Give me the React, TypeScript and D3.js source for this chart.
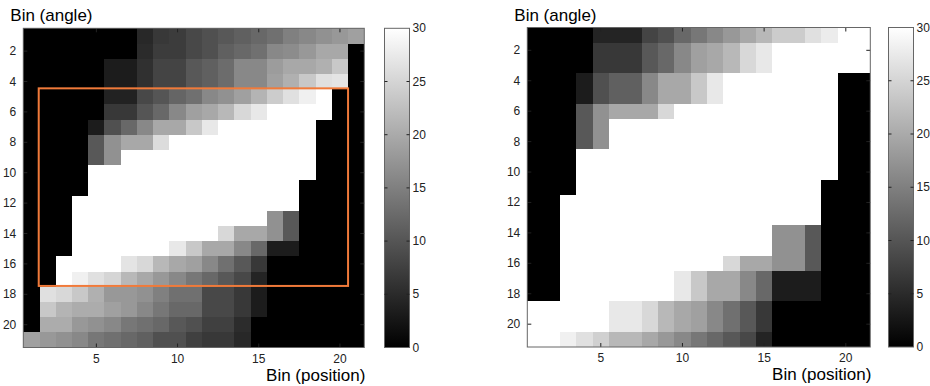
import * as d3 from 'd3';

// counts per (angle bin, position bin); rows = angle 1..21, columns = position 1..21
const leftCounts: number[][] = [
  [0, 0, 0, 0, 0, 0, 0, 4.7, 6.6, 7, 8.5, 9.4, 10.4, 11.3, 12.2, 13.2, 15, 16, 17, 17.9, 18.8],
  [0, 0, 0, 0, 0, 0, 0, 5, 7, 7, 8.5, 9.4, 11.3, 12.2, 13.2, 16, 16.5, 17.9, 19.8, 19.8, 0],
  [0, 0, 0, 0, 0, 3.3, 3.3, 5.6, 8, 8, 10.4, 11.3, 12.7, 16, 16, 18.4, 19.8, 19.8, 20.7, 23.5, 0],
  [0, 0, 0, 0, 0, 3.3, 3.3, 5.6, 8, 8, 10.4, 11.3, 12.7, 16, 16, 18.8, 20.7, 23.5, 26.4, 26.8, 0],
  [0, 0, 0, 0, 0, 4, 4, 8.5, 10, 11.9, 13.2, 16, 17, 18.8, 21.2, 24, 26.4, 28.2, 30, 0, 0],
  [0, 0, 0, 0, 0, 6.6, 6.6, 10, 12.2, 16, 18.8, 19.8, 21.6, 25.4, 27.3, 30, 30, 30, 30, 0, 0],
  [0, 0, 0, 0, 3.3, 9.4, 12.2, 16, 19.8, 19.8, 23.5, 27.3, 30, 30, 30, 30, 30, 30, 0, 0, 0],
  [0, 0, 0, 0, 10.4, 17, 19.8, 19.8, 25.9, 30, 30, 30, 30, 30, 30, 30, 30, 30, 0, 0, 0],
  [0, 0, 0, 0, 10.4, 17, 30, 30, 30, 30, 30, 30, 30, 30, 30, 30, 30, 30, 0, 0, 0],
  [0, 0, 0, 0, 30, 30, 30, 30, 30, 30, 30, 30, 30, 30, 30, 30, 30, 30, 0, 0, 0],
  [0, 0, 0, 0, 30, 30, 30, 30, 30, 30, 30, 30, 30, 30, 30, 30, 30, 0, 0, 0, 0],
  [0, 0, 0, 30, 30, 30, 30, 30, 30, 30, 30, 30, 30, 30, 30, 30, 30, 0, 0, 0, 0],
  [0, 0, 0, 30, 30, 30, 30, 30, 30, 30, 30, 30, 30, 30, 30, 17, 10.4, 0, 0, 0, 0],
  [0, 0, 0, 30, 30, 30, 30, 30, 30, 30, 30, 30, 25.4, 19.8, 19.8, 17, 10.4, 0, 0, 0, 0],
  [0, 0, 0, 30, 30, 30, 30, 30, 30, 27.3, 23.5, 19.8, 19.8, 16, 12.2, 3.3, 3.3, 0, 0, 0, 0],
  [0, 0, 30, 30, 30, 30, 26.8, 25.4, 21.6, 19.8, 18.8, 16, 13.2, 10.4, 6.6, 0, 0, 0, 0, 0, 0],
  [0, 0, 30, 28.2, 26.4, 25, 21.6, 19.8, 17.9, 16, 14, 12.2, 10.4, 8.5, 4.2, 0, 0, 0, 0, 0, 0],
  [0, 26.4, 25.4, 23.5, 20.7, 17.9, 17.9, 17, 15, 13.2, 13.2, 8.5, 8.5, 6.6, 3.3, 0, 0, 0, 0, 0, 0],
  [0, 23.5, 21.2, 20.2, 20.2, 18.8, 17.9, 16, 14, 12.2, 12.2, 8.5, 8.5, 6.6, 3.3, 0, 0, 0, 0, 0, 0],
  [0, 20.2, 20.2, 17.9, 17, 16, 14, 13.2, 12.2, 10.4, 9.4, 7.5, 7.5, 5.2, 0, 0, 0, 0, 0, 0, 0],
  [18.8, 17.9, 17, 16, 14, 13.2, 12.2, 11.3, 9.4, 9.4, 7.5, 6.6, 6.6, 4.7, 0, 0, 0, 0, 0, 0, 0],
];

const rightCounts: number[][] = [
  [0, 0, 0, 0, 4.2, 4.2, 4.2, 8, 9.4, 12.2, 14, 16, 17.9, 19.8, 21.6, 24, 24, 26.4, 27.8, 30, 30],
  [0, 0, 0, 0, 6.6, 6.6, 6.6, 10.4, 12.2, 16, 18.8, 19.8, 21.6, 25.4, 27.3, 30, 30, 30, 30, 30, 30],
  [0, 0, 0, 0, 6.6, 6.6, 6.6, 10.4, 12.2, 16, 18.8, 19.8, 21.6, 25.4, 27.3, 30, 30, 30, 30, 30, 30],
  [0, 0, 0, 3.3, 9.4, 11.3, 11.3, 16, 19.8, 19.8, 23.5, 27.3, 30, 30, 30, 30, 30, 30, 30, 0, 0],
  [0, 0, 0, 3.3, 9.4, 11.3, 11.3, 16, 19.8, 19.8, 23.5, 27.3, 30, 30, 30, 30, 30, 30, 30, 0, 0],
  [0, 0, 0, 10.4, 17, 19.8, 19.8, 19.8, 25.4, 30, 30, 30, 30, 30, 30, 30, 30, 30, 30, 0, 0],
  [0, 0, 0, 10.4, 17, 30, 30, 30, 30, 30, 30, 30, 30, 30, 30, 30, 30, 30, 30, 0, 0],
  [0, 0, 0, 10.4, 17, 30, 30, 30, 30, 30, 30, 30, 30, 30, 30, 30, 30, 30, 30, 0, 0],
  [0, 0, 0, 30, 30, 30, 30, 30, 30, 30, 30, 30, 30, 30, 30, 30, 30, 30, 30, 0, 0],
  [0, 0, 0, 30, 30, 30, 30, 30, 30, 30, 30, 30, 30, 30, 30, 30, 30, 30, 30, 0, 0],
  [0, 0, 0, 30, 30, 30, 30, 30, 30, 30, 30, 30, 30, 30, 30, 30, 30, 30, 0, 0, 0],
  [0, 0, 30, 30, 30, 30, 30, 30, 30, 30, 30, 30, 30, 30, 30, 30, 30, 30, 0, 0, 0],
  [0, 0, 30, 30, 30, 30, 30, 30, 30, 30, 30, 30, 30, 30, 30, 30, 30, 30, 0, 0, 0],
  [0, 0, 30, 30, 30, 30, 30, 30, 30, 30, 30, 30, 30, 30, 30, 17, 17, 10.4, 0, 0, 0],
  [0, 0, 30, 30, 30, 30, 30, 30, 30, 30, 30, 30, 30, 30, 30, 17, 17, 10.4, 0, 0, 0],
  [0, 0, 30, 30, 30, 30, 30, 30, 30, 30, 30, 30, 25.4, 19.8, 19.8, 17, 17, 10.4, 0, 0, 0],
  [0, 0, 30, 30, 30, 30, 30, 30, 30, 27.3, 23.5, 19.8, 19.8, 16, 12.2, 3.3, 3.3, 3.3, 0, 0, 0],
  [0, 0, 30, 30, 30, 30, 30, 30, 30, 27.3, 23.5, 19.8, 19.8, 16, 12.2, 3.3, 3.3, 3.3, 0, 0, 0],
  [30, 30, 30, 30, 30, 27.3, 27.3, 25.4, 21.6, 19.8, 18.8, 16, 13.2, 10.4, 6.6, 0, 0, 0, 0, 0, 0],
  [30, 30, 30, 30, 30, 27.3, 27.3, 25.4, 21.6, 19.8, 18.8, 16, 13.2, 10.4, 6.6, 0, 0, 0, 0, 0, 0],
  [30, 30, 28.2, 26.4, 24.5, 21.6, 21.6, 19.8, 17.9, 16, 14, 12.2, 10.4, 8.5, 4.2, 0, 0, 0, 0, 0, 0],
];

const xTicks = [5, 10, 15, 20];
const yTicks = [2, 4, 6, 8, 10, 12, 14, 16, 18, 20];
const cbarTicks = [0, 5, 10, 15, 20, 25, 30];
// region of interest drawn on the left map (data coordinates)
const roiX = [1.45, 20.5];
const roiY = [4.45, 17.45];

const FONT = "'Liberation Sans', Arial, sans-serif";
const gray = d3.scaleLinear<string>().domain([0, 30]).range(['#000000', '#ffffff']).clamp(true);

interface MapProps {
  counts: number[][];
  left: number;
  right: number;
  top: number;
  bottom: number;
  cbarX: number;
  roi?: boolean;
}

function CountMap({ counts, left, right, top, bottom, cbarX, roi }: MapProps) {
  const n = counts.length;
  const x = d3.scaleLinear().domain([0.5, n + 0.5]).range([left, right]);
  const y = d3.scaleLinear().domain([0.5, n + 0.5]).range([top, bottom]);
  const cb = d3.scaleLinear().domain([0, 30]).range([bottom, top]);
  const gid = `cbar-${Math.round(left)}`;
  const tk = 4;

  return (
    <g>
      <g shapeRendering="crispEdges">
        {counts.map((row, r) =>
          row.map((v, c) => {
            const x0 = Math.round(x(c + 0.5));
            const x1 = Math.round(x(c + 1.5));
            const y0 = Math.round(y(r + 0.5));
            const y1 = Math.round(y(r + 1.5));
            return <rect key={`${r}-${c}`} x={x0} y={y0} width={x1 - x0} height={y1 - y0} fill={gray(v)} />;
          })
        )}
      </g>
      {xTicks.map(t => (
        <g key={`xt${t}`}>
          <line x1={x(t)} x2={x(t)} y1={bottom} y2={bottom - tk} stroke="#222" />
          <line x1={x(t)} x2={x(t)} y1={top} y2={top + tk} stroke="#222" />
          <text x={x(t)} y={bottom + 15} textAnchor="middle" fontSize={12} fill="#222" fontFamily={FONT}>
            {t}
          </text>
        </g>
      ))}
      {yTicks.map(t => (
        <g key={`yt${t}`}>
          <line x1={left} x2={left + tk} y1={y(t)} y2={y(t)} stroke="#222" />
          <line x1={right} x2={right - tk} y1={y(t)} y2={y(t)} stroke="#222" />
          <text x={left - 7} y={y(t) + 4} textAnchor="end" fontSize={12} fill="#222" fontFamily={FONT}>
            {t}
          </text>
        </g>
      ))}
      <rect x={left} y={top} width={right - left} height={bottom - top} fill="none" stroke="#666" strokeWidth={1} />
      {roi && (
        <rect
          x={x(roiX[0])}
          y={y(roiY[0])}
          width={x(roiX[1]) - x(roiX[0])}
          height={y(roiY[1]) - y(roiY[0])}
          fill="none"
          stroke="#f07a3a"
          strokeWidth={2}
        />
      )}
      <text x={left - 13} y={top - 7} fontSize={17} fill="#000" fontFamily={FONT}>
        Bin (angle)
      </text>
      <text x={right + 1} y={bottom + 33} textAnchor="end" fontSize={17} fill="#000" fontFamily={FONT}>
        Bin (position)
      </text>

      {/* colorbar */}
      <defs>
        <linearGradient id={gid} x1="0" y1="1" x2="0" y2="0">
          <stop offset="0%" stopColor={gray(0)} />
          <stop offset="100%" stopColor={gray(30)} />
        </linearGradient>
      </defs>
      <rect x={cbarX} y={top} width={25} height={bottom - top} fill={`url(#${gid})`} stroke="#666" />
      {cbarTicks.map(t => (
        <g key={`cb${t}`}>
          {t > 0 && t < 30 && (
            <>
              <line x1={cbarX} x2={cbarX + 3} y1={cb(t)} y2={cb(t)} stroke="#222" />
              <line x1={cbarX + 25} x2={cbarX + 22} y1={cb(t)} y2={cb(t)} stroke="#222" />
            </>
          )}
          <text x={cbarX + 28} y={cb(t) + 4} fontSize={12} fill="#222" fontFamily={FONT}>
            {t}
          </text>
        </g>
      ))}
    </g>
  );
}

export default function App() {
  return (
    <svg
      width={930}
      height={386}
      style={{ position: 'absolute', left: 0, top: 0, background: '#fff' }}
    >
      <rect width={930} height={386} fill="#fff" />
      <CountMap counts={leftCounts} left={23.3} right={364.3} top={28.3} bottom={347.5} cbarX={384.5} roi />
      <CountMap counts={rightCounts} left={527.3} right={870.3} top={27.5} bottom={347} cbarX={888.5} />
    </svg>
  );
}
